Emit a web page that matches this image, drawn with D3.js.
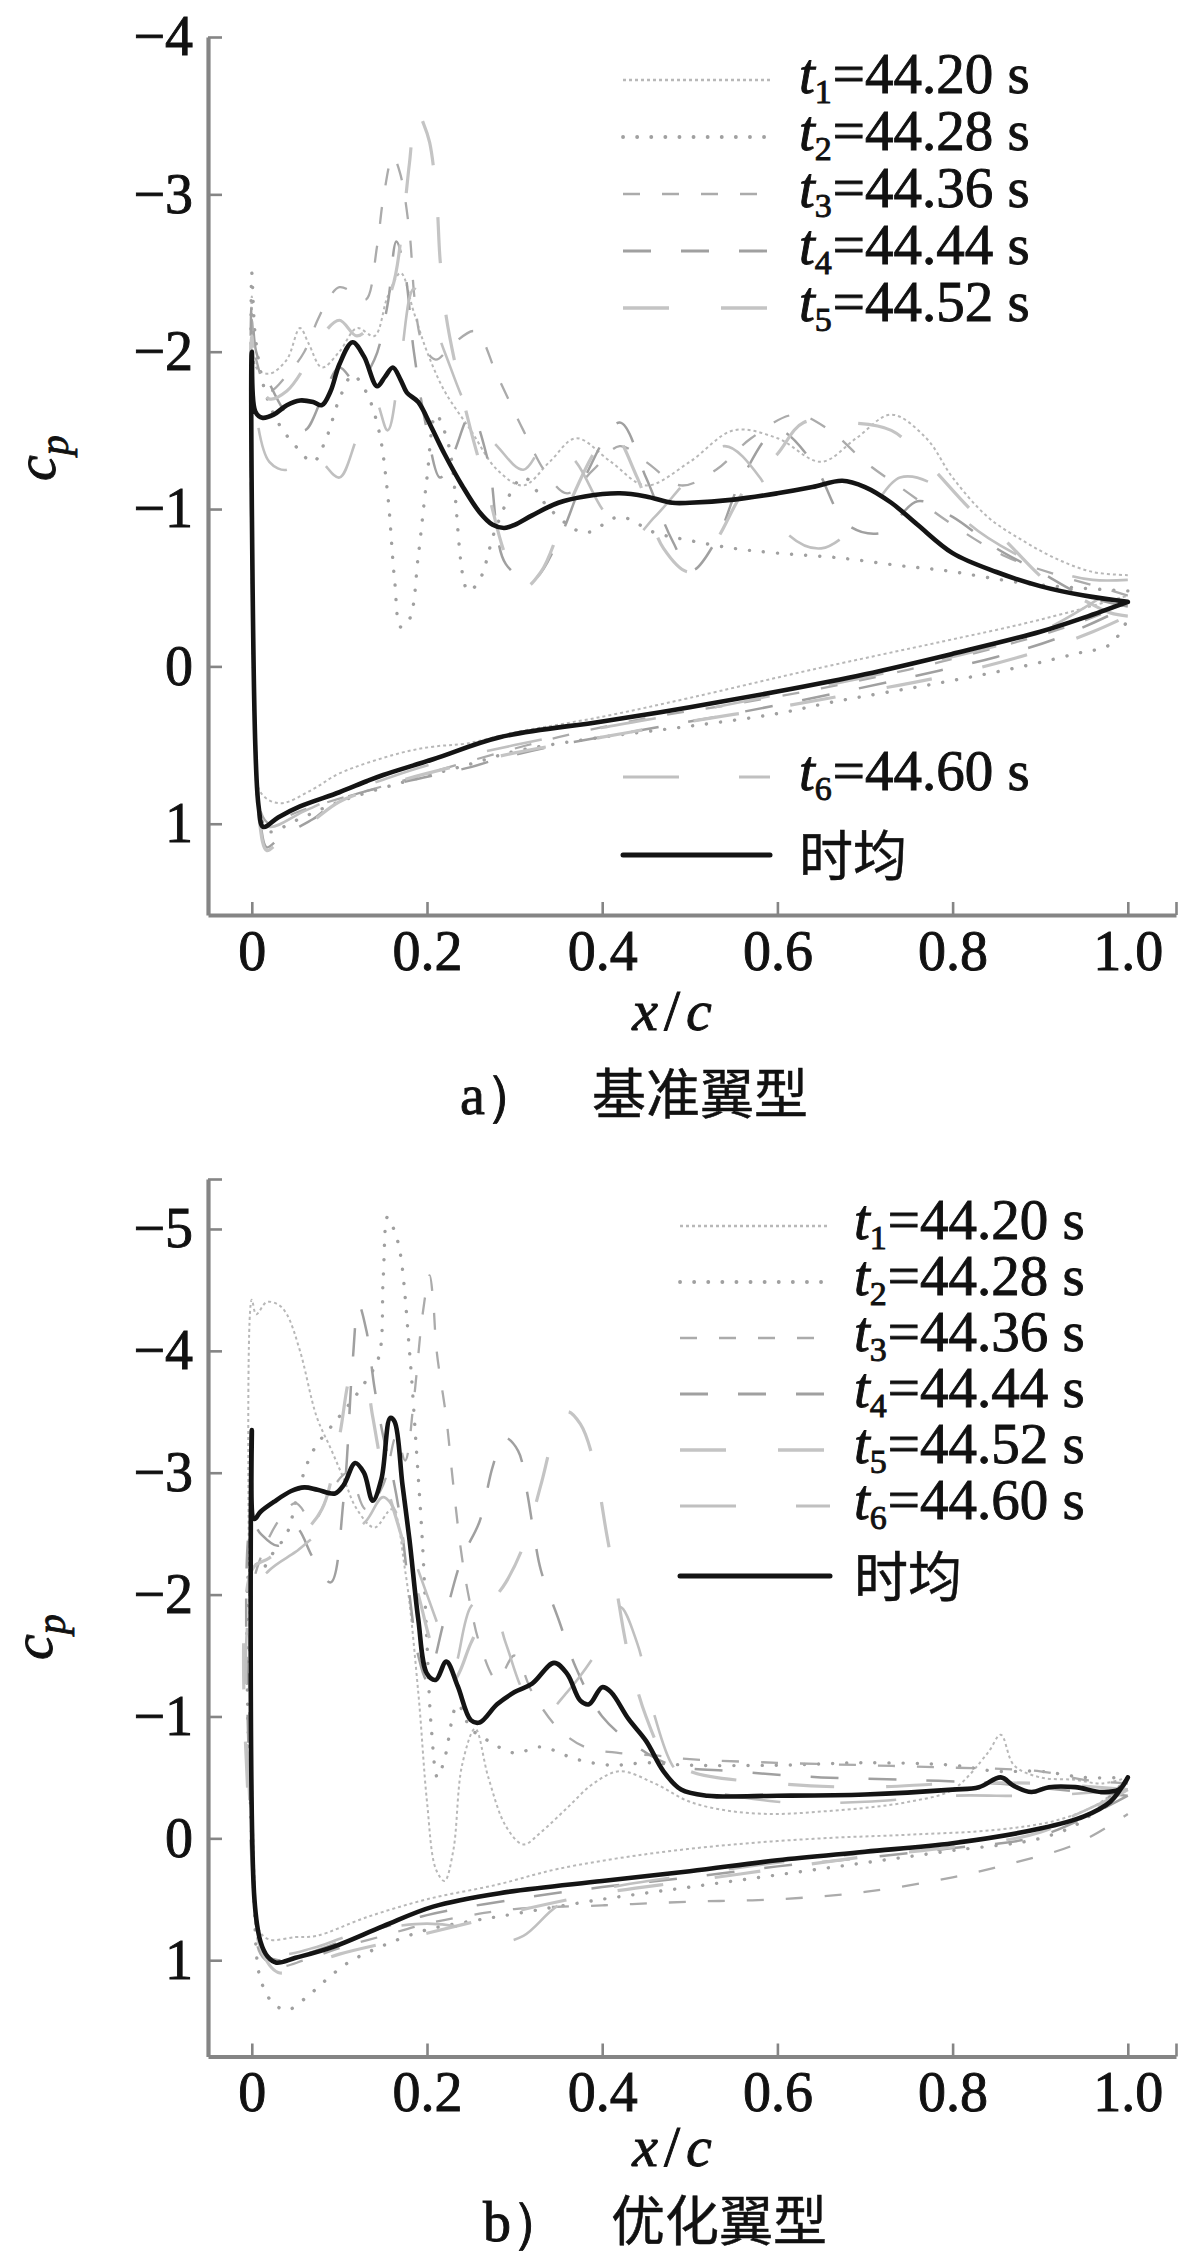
<!DOCTYPE html>
<html><head><meta charset="utf-8">
<script src="https://cdn.jsdelivr.net/npm/d3@7"></script>
<style>
body{margin:0;background:#fff}
.serif{font-family:"Liberation Serif","Tinos","Times New Roman","Nimbus Roman","DejaVu Serif",serif;stroke:#111;stroke-width:0.9px}
.cjk{font-family:"Noto Sans CJK SC","Noto Sans CJK JP",sans-serif;stroke:#111;stroke-width:0.5px}
</style>
</head><body>
<svg id="chart" width="1200" height="2256" xmlns="http://www.w3.org/2000/svg"></svg>
<script>
// ---------------- tick labels / legend text ----------------
const xTickValues = [0, 0.2, 0.4, 0.6, 0.8, 1.0];
const xTickLabels = ["0", "0.2", "0.4", "0.6", "0.8", "1.0"];
const aYTickValues = [-4, -3, -2, -1, 0, 1];
const aYTickLabels = ["\u22124", "\u22123", "\u22122", "\u22121", "0", "1"];
const bYTickValues = [-5, -4, -3, -2, -1, 0, 1];
const bYTickLabels = ["\u22125", "\u22124", "\u22123", "\u22122", "\u22121", "0", "1"];
const seriesKeys = ["t1", "t2", "t3", "t4", "t5", "t6"];
const seriesSub = ["1", "2", "3", "4", "5", "6"];
const seriesTimes = ["44.20", "44.28", "44.36", "44.44", "44.52", "44.60"];
const meanLabel = "时均";
const captionA = ["a\uFF09", "基准翼型"];
const captionB = ["b\uFF09", "优化翼型"];

// ---------------- panel a : baseline airfoil  [x/c, cp] ----------------
const aMeanUpper = [[0,-2.0],[0.004,-1.62],[0.012,-1.58],[0.025,-1.6],[0.04,-1.66],[0.055,-1.69],[0.07,-1.68],[0.08,-1.66],[0.09,-1.75],[0.1,-1.92],[0.115,-2.06],[0.128,-1.97],[0.143,-1.78],[0.152,-1.84],[0.161,-1.9],[0.17,-1.82],[0.177,-1.74],[0.19,-1.68],[0.205,-1.52],[0.22,-1.35],[0.24,-1.15],[0.26,-0.98],[0.275,-0.9],[0.288,-0.88],[0.3,-0.9],[0.32,-0.96],[0.35,-1.04],[0.38,-1.08],[0.42,-1.1],[0.45,-1.08],[0.48,-1.04],[0.5,-1.04],[0.55,-1.06],[0.6,-1.1],[0.64,-1.14],[0.674,-1.18],[0.7,-1.14],[0.73,-1.04],[0.76,-0.9],[0.8,-0.72],[0.85,-0.6],[0.9,-0.51],[0.95,-0.45],[1.0,-0.41]];
const aMeanLower = [[0.004,0.5],[0.008,0.9],[0.013,1.02],[0.03,0.96],[0.055,0.89],[0.1,0.8],[0.131,0.73],[0.15,0.69],[0.207,0.59],[0.283,0.45],[0.4,0.35],[0.5,0.26],[0.6,0.16],[0.7,0.05],[0.8,-0.08],[0.9,-0.22],[0.95,-0.31],[1.0,-0.41]];

const aT1Upper = [[0,-2.35],[0.005,-1.9],[0.02,-1.86],[0.04,-1.95],[0.055,-2.15],[0.065,-2.05],[0.08,-1.9],[0.1,-2.0],[0.12,-2.15],[0.14,-2.1],[0.155,-2.35],[0.17,-2.5],[0.185,-2.25],[0.2,-2.0],[0.22,-1.75],[0.25,-1.5],[0.28,-1.25],[0.31,-1.15],[0.34,-1.3],[0.37,-1.45],[0.41,-1.3],[0.45,-1.15],[0.5,-1.3],[0.55,-1.5],[0.6,-1.45],[0.65,-1.3],[0.69,-1.45],[0.73,-1.6],[0.77,-1.45],[0.8,-1.2],[0.84,-0.95],[0.88,-0.8],[0.92,-0.68],[0.96,-0.6],[1.0,-0.58]];
const aT1Lower = [[0.004,0.4],[0.01,0.8],[0.032,0.87],[0.07,0.78],[0.1,0.68],[0.17,0.55],[0.207,0.51],[0.245,0.49],[0.3,0.42],[0.4,0.32],[0.5,0.2],[0.64,0.02],[0.79,-0.16],[0.88,-0.27],[0.95,-0.37],[1.0,-0.45]];

const aT2Upper = [[0,-2.5],[0.004,-2.1],[0.015,-1.75],[0.03,-1.55],[0.05,-1.4],[0.07,-1.3],[0.085,-1.45],[0.1,-1.7],[0.115,-1.85],[0.13,-1.75],[0.145,-1.5],[0.155,-1.1],[0.163,-0.55],[0.17,-0.25],[0.18,-0.3],[0.19,-0.7],[0.2,-1.2],[0.21,-1.6],[0.225,-1.4],[0.247,-0.48],[0.26,-0.55],[0.28,-0.9],[0.31,-1.2],[0.34,-1.0],[0.38,-0.85],[0.42,-0.95],[0.46,-0.85],[0.5,-0.8],[0.55,-0.75],[0.6,-0.72],[0.67,-0.69],[0.74,-0.64],[0.79,-0.61],[0.88,-0.53],[0.94,-0.5],[1.0,-0.48]];
const aT2Lower = [[0.004,0.5],[0.01,0.95],[0.02,1.05],[0.05,0.98],[0.1,0.86],[0.17,0.74],[0.25,0.62],[0.3,0.54],[0.4,0.45],[0.5,0.38],[0.6,0.3],[0.66,0.23],[0.79,0.1],[0.88,0.0],[0.94,-0.08],[0.98,-0.14],[1.0,-0.3]];

const aT3Upper = [[0,-2.2],[0.005,-1.95],[0.02,-1.75],[0.04,-1.85],[0.06,-2.0],[0.075,-2.2],[0.089,-2.35],[0.1,-2.41],[0.115,-2.38],[0.13,-2.33],[0.143,-2.67],[0.15,-2.97],[0.161,-3.24],[0.169,-3.14],[0.18,-2.76],[0.186,-2.33],[0.195,-2.05],[0.21,-1.95],[0.23,-2.05],[0.255,-2.13],[0.28,-1.85],[0.31,-1.5],[0.337,-1.22],[0.36,-1.1],[0.39,-1.25],[0.42,-1.4],[0.45,-1.3],[0.49,-1.15],[0.53,-1.25],[0.57,-1.45],[0.62,-1.6],[0.66,-1.5],[0.7,-1.3],[0.75,-1.1],[0.8,-0.9],[0.86,-0.7],[0.92,-0.58],[0.97,-0.5],[1.0,-0.45]];
const aT3Lower = [[0.004,0.5],[0.01,0.92],[0.02,1.0],[0.05,0.93],[0.1,0.84],[0.17,0.73],[0.25,0.6],[0.35,0.45],[0.45,0.33],[0.55,0.24],[0.65,0.14],[0.75,0.02],[0.85,-0.12],[0.93,-0.25],[1.0,-0.4]];

const aT4Upper = [[0,-2.3],[0.005,-2.0],[0.02,-1.8],[0.04,-1.6],[0.06,-1.5],[0.08,-1.7],[0.1,-1.9],[0.12,-1.8],[0.14,-1.95],[0.155,-2.3],[0.165,-2.7],[0.175,-2.5],[0.185,-2.0],[0.2,-1.5],[0.215,-1.2],[0.23,-1.35],[0.25,-1.6],[0.27,-1.3],[0.29,-0.65],[0.32,-0.55],[0.35,-0.8],[0.38,-1.2],[0.42,-1.55],[0.45,-1.2],[0.48,-0.8],[0.502,-0.61],[0.53,-0.8],[0.56,-1.2],[0.6,-1.5],[0.64,-1.3],[0.68,-0.9],[0.72,-0.85],[0.76,-1.05],[0.8,-0.95],[0.85,-0.75],[0.9,-0.6],[0.95,-0.45],[1.0,-0.38]];
const aT4Lower = [[0.004,0.5],[0.01,1.0],[0.017,1.15],[0.03,1.1],[0.047,1.04],[0.07,0.97],[0.1,0.85],[0.17,0.74],[0.25,0.64],[0.28,0.59],[0.35,0.5],[0.45,0.4],[0.55,0.3],[0.65,0.19],[0.75,0.07],[0.85,-0.06],[0.92,-0.18],[1.0,-0.38]];

const aT5Upper = [[0,-2.1],[0.005,-1.85],[0.02,-1.7],[0.04,-1.75],[0.06,-1.9],[0.08,-2.1],[0.1,-2.2],[0.12,-2.1],[0.14,-2.2],[0.16,-2.4],[0.172,-2.8],[0.18,-3.2],[0.188,-3.54],[0.196,-3.45],[0.203,-3.33],[0.211,-2.97],[0.215,-2.58],[0.222,-2.22],[0.235,-1.85],[0.25,-1.5],[0.27,-1.1],[0.29,-0.7],[0.31,-0.5],[0.33,-0.6],[0.36,-1.0],[0.39,-1.35],[0.41,-1.5],[0.44,-1.2],[0.47,-0.75],[0.5,-0.6],[0.53,-0.8],[0.56,-1.1],[0.6,-1.35],[0.63,-1.55],[0.68,-1.55],[0.73,-1.5],[0.77,-1.3],[0.82,-1.0],[0.86,-0.8],[0.91,-0.53],[0.95,-0.42],[0.98,-0.34],[1.0,-0.32]];
const aT5Lower = [[0.004,0.5],[0.008,0.95],[0.017,1.17],[0.03,1.12],[0.05,1.05],[0.07,0.98],[0.1,0.86],[0.15,0.76],[0.2,0.68],[0.3,0.55],[0.4,0.45],[0.5,0.35],[0.6,0.26],[0.7,0.16],[0.8,0.05],[0.9,-0.1],[0.96,-0.22],[1.0,-0.32]];

const aT6Upper = [[0,-1.9],[0.005,-1.6],[0.02,-1.3],[0.04,-1.25],[0.06,-1.4],[0.08,-1.3],[0.1,-1.2],[0.12,-1.45],[0.14,-1.7],[0.155,-1.5],[0.17,-1.95],[0.185,-2.4],[0.2,-2.3],[0.22,-2.0],[0.25,-1.6],[0.28,-1.4],[0.31,-1.25],[0.34,-1.45],[0.37,-1.3],[0.4,-1.0],[0.43,-0.8],[0.46,-0.95],[0.5,-1.2],[0.54,-1.4],[0.58,-1.2],[0.61,-0.85],[0.65,-0.75],[0.7,-0.95],[0.74,-1.2],[0.78,-1.15],[0.82,-0.9],[0.87,-0.72],[0.92,-0.6],[0.96,-0.55],[1.0,-0.55]];
const aT6Lower = [[0.004,0.5],[0.01,0.95],[0.02,1.02],[0.06,0.92],[0.1,0.82],[0.15,0.72],[0.2,0.63],[0.3,0.5],[0.4,0.39],[0.5,0.29],[0.6,0.18],[0.7,0.07],[0.8,-0.06],[0.9,-0.22],[1.0,-0.55]];

// ---------------- panel b : optimized airfoil  [x/c, cp] ----------------
const bMeanUpper = [[0,-3.35],[0.003,-2.62],[0.01,-2.68],[0.025,-2.76],[0.045,-2.85],[0.06,-2.88],[0.075,-2.86],[0.095,-2.83],[0.105,-2.9],[0.118,-3.08],[0.128,-3.0],[0.138,-2.77],[0.148,-2.95],[0.158,-3.45],[0.163,-3.42],[0.172,-2.9],[0.18,-2.45],[0.19,-1.8],[0.2,-1.35],[0.21,-1.3],[0.222,-1.45],[0.235,-1.25],[0.25,-0.97],[0.26,-0.95],[0.28,-1.1],[0.3,-1.2],[0.32,-1.27],[0.345,-1.44],[0.36,-1.35],[0.375,-1.13],[0.385,-1.1],[0.4,-1.24],[0.41,-1.2],[0.43,-0.98],[0.45,-0.8],[0.47,-0.55],[0.49,-0.4],[0.52,-0.35],[0.6,-0.35],[0.7,-0.36],[0.8,-0.4],[0.83,-0.42],[0.855,-0.5],[0.87,-0.43],[0.89,-0.38],[0.91,-0.42],[0.94,-0.42],[0.97,-0.38],[0.99,-0.4],[1.0,-0.5]];
const bMeanLower = [[0.003,0.5],[0.01,0.85],[0.018,0.97],[0.028,1.02],[0.05,0.98],[0.093,0.89],[0.15,0.72],[0.207,0.56],[0.283,0.45],[0.4,0.35],[0.5,0.27],[0.6,0.18],[0.7,0.11],[0.8,0.04],[0.9,-0.08],[0.95,-0.18],[0.98,-0.3],[1.0,-0.5]];

const bT1Upper = [[0,-4.42],[0.005,-4.3],[0.017,-4.4],[0.03,-4.38],[0.04,-4.3],[0.055,-4.0],[0.074,-3.46],[0.09,-3.2],[0.105,-2.95],[0.12,-2.7],[0.14,-2.55],[0.16,-2.7],[0.175,-2.2],[0.19,-1.2],[0.2,-0.3],[0.21,0.25],[0.22,0.35],[0.23,0.1],[0.24,-0.6],[0.255,-0.9],[0.27,-0.5],[0.29,-0.1],[0.31,0.05],[0.33,-0.05],[0.36,-0.25],[0.39,-0.45],[0.42,-0.55],[0.46,-0.45],[0.5,-0.3],[0.55,-0.22],[0.6,-0.2],[0.65,-0.22],[0.7,-0.25],[0.75,-0.3],[0.8,-0.4],[0.84,-0.7],[0.855,-0.85],[0.87,-0.6],[0.9,-0.5],[0.94,-0.48],[0.97,-0.45],[1.0,-0.5]];
const bT1Lower = [[0.003,0.3],[0.008,0.75],[0.02,0.83],[0.05,0.81],[0.074,0.8],[0.13,0.65],[0.2,0.5],[0.28,0.38],[0.35,0.25],[0.45,0.13],[0.55,0.05],[0.65,0.0],[0.75,-0.03],[0.85,-0.07],[0.92,-0.15],[0.97,-0.3],[1.0,-0.5]];

const bT2Upper = [[0,-2.3],[0.01,-2.2],[0.025,-2.35],[0.04,-2.5],[0.055,-2.9],[0.07,-3.18],[0.093,-3.4],[0.11,-3.55],[0.13,-3.75],[0.145,-3.95],[0.15,-4.6],[0.155,-5.1],[0.162,-5.0],[0.169,-4.82],[0.18,-4.0],[0.188,-3.18],[0.195,-2.4],[0.2,-1.6],[0.205,-0.9],[0.212,-0.5],[0.22,-0.65],[0.235,-1.1],[0.25,-0.9],[0.27,-0.8],[0.3,-0.7],[0.33,-0.75],[0.37,-0.65],[0.41,-0.6],[0.45,-0.62],[0.5,-0.6],[0.6,-0.6],[0.7,-0.62],[0.8,-0.6],[0.85,-0.55],[0.9,-0.55],[0.95,-0.5],[1.0,-0.5]];
const bT2Lower = [[0.003,0.6],[0.008,1.1],[0.015,1.25],[0.024,1.35],[0.04,1.41],[0.063,1.3],[0.085,1.16],[0.11,1.02],[0.15,0.88],[0.2,0.75],[0.25,0.68],[0.3,0.62],[0.4,0.5],[0.5,0.4],[0.6,0.3],[0.7,0.2],[0.8,0.1],[0.9,0.0],[0.95,-0.15],[1.0,-0.5]];

const bT3Upper = [[0,-2.0],[0.01,-2.3],[0.03,-2.6],[0.05,-2.75],[0.07,-2.6],[0.09,-2.85],[0.11,-3.0],[0.13,-2.7],[0.15,-2.9],[0.165,-3.3],[0.175,-3.1],[0.185,-3.6],[0.195,-4.3],[0.203,-4.62],[0.207,-4.41],[0.211,-4.0],[0.222,-3.45],[0.23,-2.9],[0.24,-2.3],[0.25,-1.9],[0.26,-1.6],[0.28,-1.3],[0.3,-1.5],[0.32,-1.2],[0.35,-0.9],[0.38,-0.75],[0.42,-0.7],[0.46,-0.68],[0.5,-0.65],[0.6,-0.62],[0.7,-0.6],[0.8,-0.58],[0.9,-0.55],[0.95,-0.48],[1.0,-0.45]];
const bT3Lower = [[0.003,0.5],[0.01,0.95],[0.03,1.05],[0.06,1.0],[0.1,0.9],[0.15,0.8],[0.2,0.7],[0.25,0.63],[0.3,0.58],[0.4,0.55],[0.5,0.52],[0.6,0.5],[0.7,0.44],[0.8,0.32],[0.87,0.2],[0.94,0.05],[1.0,-0.2]];

const bT4Upper = [[0,-2.6],[0.01,-2.5],[0.03,-2.4],[0.05,-2.55],[0.07,-2.3],[0.09,-2.1],[0.105,-2.8],[0.115,-3.9],[0.122,-4.38],[0.131,-4.16],[0.14,-3.7],[0.15,-3.3],[0.16,-3.0],[0.17,-2.6],[0.18,-2.0],[0.19,-1.5],[0.2,-1.3],[0.22,-1.8],[0.24,-2.3],[0.26,-2.6],[0.275,-3.05],[0.288,-3.29],[0.304,-3.18],[0.314,-2.85],[0.322,-2.5],[0.33,-2.2],[0.35,-1.8],[0.37,-1.4],[0.4,-1.0],[0.44,-0.75],[0.48,-0.6],[0.55,-0.55],[0.65,-0.5],[0.75,-0.48],[0.85,-0.45],[0.92,-0.4],[1.0,-0.35]];
const bT4Lower = [[0.003,0.5],[0.01,0.92],[0.03,1.0],[0.07,0.93],[0.12,0.8],[0.2,0.63],[0.3,0.5],[0.4,0.4],[0.5,0.32],[0.6,0.23],[0.7,0.16],[0.8,0.08],[0.9,-0.02],[1.0,-0.35]];

const bT5Upper = [[0,-2.2],[0.02,-2.3],[0.05,-2.45],[0.08,-2.7],[0.1,-3.3],[0.115,-3.81],[0.125,-3.78],[0.131,-3.73],[0.138,-3.46],[0.15,-3.0],[0.17,-2.5],[0.19,-2.0],[0.21,-1.5],[0.23,-1.3],[0.25,-1.6],[0.27,-1.9],[0.29,-2.1],[0.31,-2.4],[0.33,-2.9],[0.345,-3.3],[0.36,-3.5],[0.375,-3.4],[0.39,-3.1],[0.405,-2.5],[0.415,-2.1],[0.43,-1.5],[0.45,-1.0],[0.47,-0.7],[0.5,-0.55],[0.6,-0.45],[0.7,-0.42],[0.8,-0.45],[0.9,-0.45],[1.0,-0.4]];
const bT5Lower = [[0.003,0.5],[0.01,0.9],[0.03,1.1],[0.06,1.05],[0.1,0.95],[0.17,0.83],[0.245,0.7],[0.3,0.6],[0.4,0.45],[0.5,0.35],[0.6,0.25],[0.7,0.15],[0.8,0.07],[0.9,-0.05],[1.0,-0.4]];

const bT6Upper = [[0,-2.0],[0.02,-2.2],[0.05,-2.35],[0.08,-2.5],[0.1,-2.45],[0.13,-2.6],[0.15,-2.8],[0.17,-2.6],[0.19,-2.2],[0.21,-1.8],[0.23,-1.4],[0.25,-1.9],[0.27,-2.0],[0.29,-1.6],[0.31,-1.2],[0.33,-1.0],[0.36,-1.2],[0.4,-1.6],[0.42,-1.9],[0.44,-1.6],[0.46,-1.0],[0.48,-0.6],[0.5,-0.45],[0.6,-0.3],[0.7,-0.3],[0.8,-0.35],[0.9,-0.35],[1.0,-0.4]];
const bT6Lower = [[0.003,0.4],[0.01,0.85],[0.03,0.95],[0.07,0.9],[0.12,0.78],[0.2,0.7],[0.25,0.75],[0.28,0.85],[0.31,0.8],[0.35,0.55],[0.4,0.42],[0.5,0.3],[0.6,0.2],[0.7,0.12],[0.8,0.03],[0.9,-0.08],[1.0,-0.4]];

// ---------------- styles (not data) ----------------
const STY = {
  t1: {color: "#b8b8b8", width: 2,   dash: "3,3",   cap: "butt"},
  t2: {color: "#a0a0a0", width: 3.4, dash: "0.1,14", cap: "round"},
  t3: {color: "#ababab", width: 2.3, dash: "17,22", cap: "butt"},
  t4: {color: "#a0a0a0", width: 2.5, dash: "28,30", cap: "butt"},
  t5: {color: "#c4c4c4", width: 3.2, dash: "46,52", cap: "butt"},
  t6: {color: "#c0c0c0", width: 2.6, dash: "56,60", cap: "butt"},
  mean: {color: "#141414", width: 4.6, dash: null, cap: "round"}
};
const AXIS_COLOR = "#858585";

const svg = d3.select("#chart");

function drawPanel(p) {
  const g = svg.append("g");
  const x = d3.scaleLinear().domain([-0.05, 1.055]).range([208, 1176]);
  const y = d3.scaleLinear().domain(p.yDomain).range(p.yRange);
  const line = d3.line().x(d => x(d[0])).y(d => y(d[1])).curve(d3.curveCatmullRom.alpha(0.5));

  const clipId = "clip" + p.id;
  svg.append("clipPath").attr("id", clipId).append("rect")
    .attr("x", 210).attr("y", p.yRange[0]).attr("width", 966).attr("height", p.yRange[1] - p.yRange[0] - 2);

  const curves = g.append("g").attr("clip-path", `url(#${clipId})`);
  p.series.forEach(s => {
    const st = STY[s.key];
    const pts = s.upper.slice().reverse().concat(s.lower);
    curves.append("path").attr("d", line(pts)).attr("fill", "none")
      .attr("stroke", st.color).attr("stroke-width", st.width)
      .attr("stroke-dasharray", st.dash).attr("stroke-linecap", st.cap)
      .attr("stroke-linejoin", "round");
  });

  // axes
  const yVals = p.yTicks.concat(p.yEnd !== null ? [p.yEnd] : []);
  const yAxis = d3.axisLeft(y).tickValues(yVals).tickSize(-14).tickSizeOuter(0).tickPadding(15)
    .tickFormat(v => { const i = p.yTicks.indexOf(v); return i >= 0 ? p.yLabels[i] : ""; });
  const gy = g.append("g").attr("transform", "translate(208,0)").call(yAxis);
  const xVals = xTickValues.concat([1.055]);
  const xAxis = d3.axisBottom(x).tickValues(xVals).tickSize(-13).tickSizeOuter(0).tickPadding(15)
    .tickFormat(v => { const i = xTickValues.indexOf(v); return i >= 0 ? xTickLabels[i] : ""; });
  const gx = g.append("g").attr("transform", `translate(0,${p.yRange[1]})`).call(xAxis);
  [gx, gy].forEach(a => {
    a.attr("font-family", null).attr("font-size", null);
    a.select(".domain").attr("stroke", AXIS_COLOR).attr("stroke-width", 4.2);
    a.selectAll(".tick line").attr("stroke", AXIS_COLOR).attr("stroke-width", 2.6);
    a.selectAll(".tick text").attr("class", "serif").attr("fill", "#111").style("font-size", "56px");
  });

  // axis titles
  const xt = g.append("text").attr("class", "serif").attr("x", p.xLabelX).attr("y", p.xLabelY)
    .style("font-size", "58px").attr("fill", "#111").attr("text-anchor", "middle");
  xt.append("tspan").text("x").style("font-style", "italic");
  xt.append("tspan").text("/").attr("dx", 6);
  xt.append("tspan").text("c").attr("dx", 6).style("font-style", "italic");

  const yt = g.append("text").attr("class", "serif").attr("transform", `translate(${p.yLabelX},${p.yLabelY}) rotate(-90)`)
    .style("font-size", "58px").attr("fill", "#111").attr("text-anchor", "middle");
  yt.append("tspan").text("c").style("font-style", "italic");
  yt.append("tspan").text("p").style("font-style", "italic").style("font-size", "40px").attr("dy", 13);

  // legend
  p.legend.forEach(r => {
    const st = STY[r.key];
    g.append("line").attr("x1", p.legX1).attr("x2", p.legX2).attr("y1", r.y).attr("y2", r.y)
      .attr("stroke", st.color).attr("stroke-width", r.key === "mean" ? 5 : st.width + 0.4)
      .attr("stroke-dasharray", st.dash).attr("stroke-linecap", st.cap);
    if (r.key === "mean") {
      g.append("text").attr("class", "cjk").attr("x", p.legTX).attr("y", r.y + 21).text(meanLabel)
        .style("font-size", "54px").attr("fill", "#111");
    } else {
      const i = seriesKeys.indexOf(r.key);
      const t = g.append("text").attr("class", "serif").attr("x", p.legTX).attr("y", r.y + 13)
        .style("font-size", "57px").attr("fill", "#111");
      t.append("tspan").text("t").style("font-style", "italic");
      t.append("tspan").text(seriesSub[i]).style("font-size", "34px").attr("dy", 10);
      t.append("tspan").text("=" + seriesTimes[i] + "\u00A0s").attr("dy", -10).attr("dx", 1);
    }
  });

  // caption
  g.append("text").attr("class", "serif").attr("x", p.capX1).attr("y", p.capY).text(p.caption[0])
    .style("font-size", "56px").attr("fill", "#111");
  g.append("text").attr("class", "cjk").attr("x", p.capX2).attr("y", p.capY).text(p.caption[1])
    .style("font-size", "54px").attr("fill", "#111");
}

function seriesList(ups, lows) {
  return seriesKeys.map((k, i) => ({key: k, upper: ups[i], lower: lows[i]}));
}

drawPanel({
  id: "a",
  yDomain: [-4, 1.58], yRange: [37, 915],
  yTicks: aYTickValues, yLabels: aYTickLabels, yEnd: null,
  series: seriesList([aT1Upper, aT2Upper, aT3Upper, aT4Upper, aT5Upper, aT6Upper],
                     [aT1Lower, aT2Lower, aT3Lower, aT4Lower, aT5Lower, aT6Lower])
          .concat([{key: "mean", upper: aMeanUpper, lower: aMeanLower}]),
  xLabelX: 672, xLabelY: 1030, yLabelX: 55, yLabelY: 458,
  legX1: 623, legX2: 770, legTX: 799,
  legend: [{key:"t1",y:80},{key:"t2",y:137},{key:"t3",y:194},{key:"t4",y:251},{key:"t5",y:308},{key:"t6",y:777},{key:"mean",y:855}],
  caption: captionA, capX1: 460, capX2: 592, capY: 1114
});

drawPanel({
  id: "b",
  yDomain: [-5.41, 1.79], yRange: [1179, 2056.5],
  yTicks: bYTickValues, yLabels: bYTickLabels, yEnd: -5.41,
  series: seriesList([bT1Upper, bT2Upper, bT3Upper, bT4Upper, bT5Upper, bT6Upper],
                     [bT1Lower, bT2Lower, bT3Lower, bT4Lower, bT5Lower, bT6Lower])
          .concat([{key: "mean", upper: bMeanUpper, lower: bMeanLower}]),
  xLabelX: 672, xLabelY: 2166, yLabelX: 52, yLabelY: 1637,
  legX1: 680, legX2: 830, legTX: 854,
  legend: [{key:"t1",y:1226},{key:"t2",y:1282},{key:"t3",y:1338},{key:"t4",y:1394},{key:"t5",y:1450},{key:"t6",y:1506},{key:"mean",y:1576}],
  caption: captionB, capX1: 483, capX2: 611, capY: 2241
});
</script>
</body></html>
